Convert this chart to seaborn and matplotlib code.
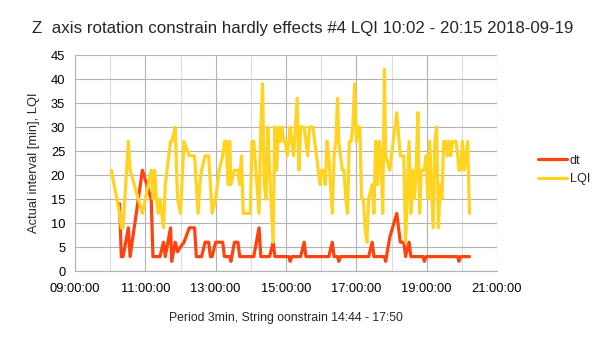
import numpy as np
import pandas as pd
import matplotlib
matplotlib.use("Agg")
import matplotlib.pyplot as plt
import matplotlib.dates as mdates
import seaborn as sns

# Record log for 2018-09-19: interval since previous record [min] and LQI
start_time = "2018-09-19 10:02"
dt = [None, 14, 3, 3, 9, 3, 21, 15, 3, 3, 3, 3, 3, 6, 3, 9, 2, 6, 4, 5,
      6, 9, 9, 3, 3, 3, 3, 6, 6, 3, 3, 6, 6, 6, 3, 3, 3, 3, 2, 6,
      6, 3, 3, 3, 3, 3, 3, 3, 3, 3, 9, 3, 3, 3, 3, 3, 3, 6, 3, 3,
      3, 3, 3, 3, 3, 3, 3, 2, 3, 3, 3, 3, 3, 3, 6, 3, 3, 3, 3, 3,
      3, 3, 3, 3, 3, 3, 3, 3, 3, 6, 3, 3, 3, 2, 3, 3, 3, 3, 3, 3,
      3, 3, 3, 3, 3, 3, 3, 3, 3, 3, 3, 6, 3, 3, 3, 3, 3, 3, 3, 2,
      7, 12, 6, 6, 3, 6, 3, 3, 3, 3, 3, 3, 3, 3, 2, 3, 3, 3, 3, 3,
      3, 3, 3, 3, 3, 3, 3, 3, 3, 3, 3, 3, 3, 3, 2, 3, 3, 3, 3, 3, 3]
lqi = [21, 12, 9, 9, 27, 21, 12, 21, 15, 21, 15, 12, 15, 9, 18, 27, 27, 30, 15, 12,
       27, 24, 24, 18, 12, 18, 21, 24, 24, 18, 12, 15, 21, 24, 27, 27, 18, 27, 18, 21,
       21, 18, 24, 12, 12, 12, 12, 12, 27, 27, 12, 30, 39, 18, 15, 30, 21, 6, 30, 21,
       30, 27, 30, 27, 27, 24, 27, 30, 27, 24, 30, 36, 21, 30, 30, 27, 24, 30, 30, 30,
       27, 24, 21, 18, 21, 21, 18, 27, 24, 12, 24, 27, 36, 27, 24, 21, 21, 15, 12, 27,
       27, 30, 39, 27, 30, 30, 15, 15, 9, 6, 15, 18, 12, 27, 18, 27, 24, 12, 42, 24,
       21, 33, 24, 24, 6, 27, 12, 21, 15, 21, 33, 12, 21, 21, 21, 24, 15, 27, 18, 9,
       27, 30, 9, 18, 15, 27, 27, 24, 27, 24, 27, 27, 27, 24, 21, 21, 27, 21, 24, 27, 12]

series_names = ["dt", "LQI"]
series_colors = ["#FF420E", "#FFD320"]
x_ticks = ["09:00", "11:00", "13:00", "15:00", "17:00", "19:00", "21:00"]
y_ticks = [0, 5, 10, 15, 20, 25, 30, 35, 40, 45]

# record timestamps follow from the accumulated intervals
steps = [0] + list(dt[1:])
times = pd.Timestamp(start_time) + pd.to_timedelta(np.cumsum(steps), unit="min")
df = pd.DataFrame({"time": times,
                   "dt": pd.Series(dt, dtype="float"),
                   "LQI": pd.Series(lqi, dtype="float")})

sns.set_style("white")
plt.rcParams["font.family"] = ["Liberation Sans", "DejaVu Sans"]

fig = plt.figure(figsize=(6.05, 3.4), dpi=100)
ax = fig.add_axes([75 / 605, 1 - 271 / 340, 422 / 605, 216 / 340])

grid_major = "#b3b3b3"
grid_minor = "#dddddd"

for name, color in zip(series_names, series_colors):
    sub = df.dropna(subset=[name])
    sns.lineplot(data=sub, x="time", y=name, ax=ax, color=color,
                 linewidth=2.3, estimator=None, label=name, zorder=3)

day = "2018-09-19 "
ax.set_xlim(pd.Timestamp(day + x_ticks[0]), pd.Timestamp(day + x_ticks[-1]))
ax.set_ylim(y_ticks[0], y_ticks[-1])
ax.set_xticks([pd.Timestamp(day + t) for t in x_ticks])
ax.xaxis.set_major_formatter(mdates.DateFormatter("%H:%M:%S"))
ax.xaxis.set_minor_locator(mdates.HourLocator())
ax.set_yticks(y_ticks)

ax.grid(True, which="major", color=grid_major, linewidth=0.8, zorder=0)
ax.grid(True, which="minor", axis="x", color=grid_minor, linewidth=0.8, zorder=0)
ax.set_axisbelow(True)

for side in ["top", "right"]:
    ax.spines[side].set_visible(False)
for side in ["left", "bottom"]:
    ax.spines[side].set_color(grid_major)
    ax.spines[side].set_linewidth(0.8)

ax.tick_params(axis="x", which="major", length=5.5, width=0.8, color=grid_major,
               labelsize=9.3, pad=3, labelcolor="#000000")
ax.tick_params(axis="x", which="minor", length=0)
ax.tick_params(axis="y", which="major", length=5, width=0.8, color=grid_major,
               labelsize=9.3, pad=2, labelcolor="#000000")

ax.set_xlabel("")
ax.set_ylabel("Actual interval [min], LQI", fontsize=9.3, labelpad=8)
fig.text(286 / 605, 1 - 318 / 340, "Period 3min, String oonstrain 14:44 - 17:50",
         ha="center", va="center", fontsize=8.8)
fig.text(0.5, 1 - 29 / 340,
         "Z  axis rotation constrain hardly effects #4 LQI 10:02 - 20:15 2018-09-19",
         ha="center", va="center", fontsize=12.2)

ax.legend(loc="center left", bbox_to_anchor=(538 / 605, 1 - 170 / 340),
          bbox_transform=fig.transFigure, frameon=False, fontsize=9.1,
          handlelength=2.3, handletextpad=0.2, borderpad=0, borderaxespad=0,
          labelspacing=0.55)

fig.savefig("out.png", dpi=100)
